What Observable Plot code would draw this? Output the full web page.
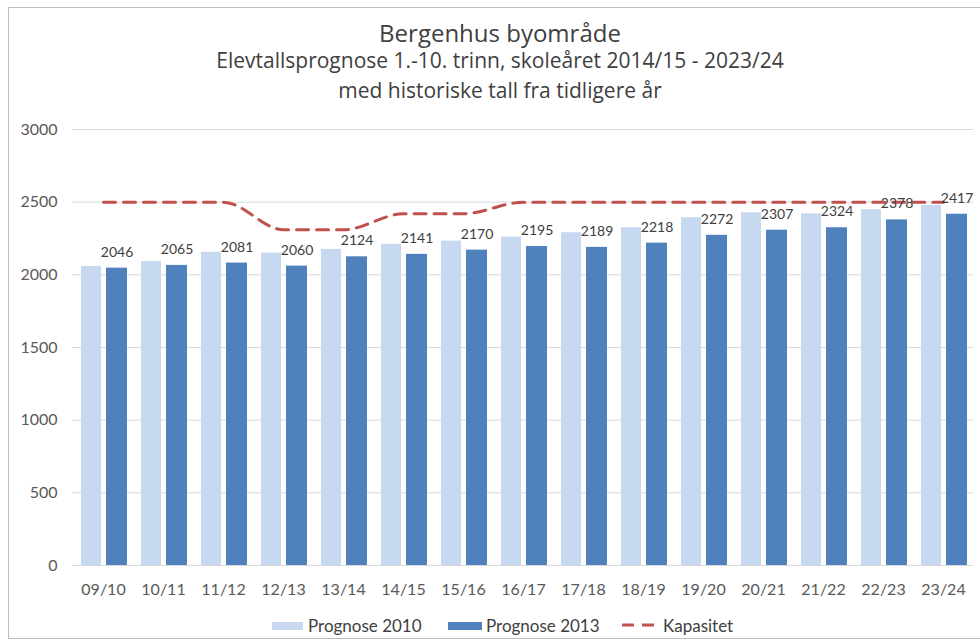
<!DOCTYPE html>
<html>
<head>
<meta charset="utf-8">
<script src="https://cdn.jsdelivr.net/npm/d3@7"></script>
<script src="https://cdn.jsdelivr.net/npm/@observablehq/plot@0.6"></script>
<style>
  html, body { margin: 0; padding: 0; background: #fff; width: 980px; height: 644px; overflow: hidden; }
  #frame { position: absolute; left: 8px; top: 7px; width: 1000px; height: 632px; border: 1px solid #bcbcbc; box-sizing: border-box; }
  .t { position: absolute; left: 0; width: 1000px; text-align: center; font-family: "Open Sans", sans-serif; color: #404040; white-space: nowrap; line-height: 1; }
  #chart { position: absolute; left: 0; top: 110px; }
  .leg { position: absolute; font-family: Lato, sans-serif; font-size: 17px; color: #404040; white-space: nowrap; line-height: 17px; }
  .sw { position: absolute; height: 8px; }
</style>
</head>
<body>
<div id="frame"></div>
<div class="t" style="top:21px;font-size:24px;">Bergenhus byområde</div>
<div class="t" style="top:50px;font-size:21px;">Elevtallsprognose 1.-10. trinn, skoleåret 2014/15 - 2023/24</div>
<div class="t" style="top:80px;font-size:21px;">med historiske tall fra tidligere år</div>
<div id="chart"></div>
<div class="sw" style="left:272px;top:622px;width:31px;background:#c6d9f1;"></div>
<div class="leg" style="left:308px;top:617px;">Prognose 2010</div>
<div class="sw" style="left:448px;top:622px;width:34px;background:#4f81bd;"></div>
<div class="leg" style="left:486px;top:617px;">Prognose 2013</div>
<svg class="sw" style="left:622px;top:621px;width:38px;height:8px;"><line x1="0" y1="4" x2="38" y2="4" stroke="#c0504d" stroke-width="3" stroke-dasharray="12,8"/></svg>
<div class="leg" style="left:663px;top:617px;">Kapasitet</div>
<script>
const categories = ["09/10","10/11","11/12","12/13","13/14","14/15","15/16","16/17","17/18","18/19","19/20","20/21","21/22","22/23","23/24"];
const prognose2010 = [2058, 2092, 2155, 2150, 2175, 2210, 2232, 2260, 2290, 2324, 2393, 2427, 2420, 2448, 2478];
const prognose2013 = [2046, 2065, 2081, 2060, 2124, 2141, 2170, 2195, 2189, 2218, 2272, 2307, 2324, 2378, 2417];
const kapasitet = [2500, 2500, 2500, 2310, 2310, 2420, 2420, 2500, 2500, 2500, 2500, 2500, 2500, 2500, 2500];
const yTicks = [0, 500, 1000, 1500, 2000, 2500, 3000];

const rows = categories.map((c, i) => ({cat: c, p2010: prognose2010[i], p2013: prognose2013[i], kap: kapasitet[i]}));

const chart = Plot.plot({
  width: 980,
  height: 500,
  marginLeft: 72,
  marginRight: 7,
  marginTop: 19,
  marginBottom: 45,
  style: {fontFamily: "Lato, sans-serif", fontSize: "16px", color: "#595959", background: "transparent"},
  x: {domain: categories, padding: 0, label: null, tickSize: 0, tickPadding: 18},
  y: {domain: [0, 3000], ticks: yTicks, tickFormat: d => String(d), label: null, tickSize: 0, tickPadding: 15},
  marks: [
    Plot.ruleY(yTicks, {stroke: "#d9d9d9", strokeWidth: 1}),
    Plot.barY(rows, {x: "cat", y: "p2010", fill: "#c6d9f1", insetLeft: 8, insetRight: 32}),
    Plot.barY(rows, {x: "cat", y: "p2013", fill: "#4f81bd", insetLeft: 33, insetRight: 6}),
    Plot.lineY(rows, {x: "cat", y: "kap", stroke: "#c0504d", strokeWidth: 3, strokeDasharray: "12,8", curve: "monotone-x"}),
    Plot.text(rows, {x: "cat", y: "p2013", text: d => String(d.p2013), dx: 13.5, dy: -16, fontSize: 14, fill: "#404040"})
  ]
});
document.getElementById("chart").appendChild(chart);
</script>
</body>
</html>
